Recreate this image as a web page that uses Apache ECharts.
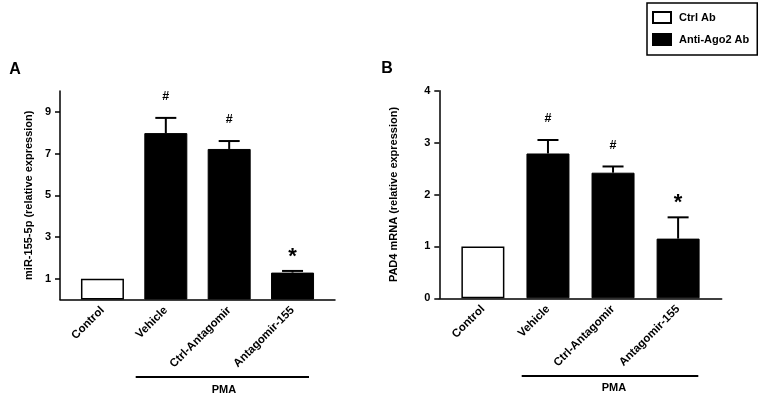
<!DOCTYPE html>
<html>
<head>
<meta charset="utf-8">
<script src="https://cdn.jsdelivr.net/npm/echarts@6/dist/echarts.min.js"></script>
<style>
  html, body { margin: 0; padding: 0; background: #fff; }
  #chart { width: 765px; height: 396px; }
</style>
</head>
<body>
<div id="chart"></div>
<script>
// ---- data ----
const categories = ['Control', 'Vehicle', 'Ctrl-Antagomir', 'Antagomir-155'];
const legendNames = ['Ctrl Ab', 'Anti-Ago2 Ab'];
const mirValues = [1.0, 7.98, 7.22, 1.29];
const mirErrors = [0, 0.73, 0.38, 0.08];
const mirMarks = ['', '#', '#', '*'];
const mirTicks = [1, 3, 5, 7, 9];
const padValues = [1.0, 2.79, 2.42, 1.15];
const padErrors = [0, 0.26, 0.12, 0.41];
const padMarks = ['', '#', '#', '*'];
const padTicks = [0, 1, 2, 3, 4];
const groupLabel = 'PMA';
const panelLetters = ['A', 'B'];
const yTitles = ['miR-155-5p (relative expression)', 'PAD4 mRNA (relative expression)'];

const FONT = "'Liberation Sans', Arial, sans-serif";
const chart = echarts.init(document.getElementById('chart'), null, { renderer: 'canvas' });

function xAxisCfg(gridIndex) {
  return {
    type: 'value', gridIndex: gridIndex, min: -0.67, max: 3.67,
    axisLine: { show: true, onZero: false, lineStyle: { color: '#000', width: 1.5 } },
    axisTick: { show: false },
    splitLine: { show: false },
    axisLabel: {
      customValues: [0, 1, 2, 3],
      formatter: function (v) { return categories[Math.round(v)]; },
      rotate: 45, margin: 9, color: '#000', fontWeight: 'bold', fontSize: 11.5, fontFamily: FONT
    }
  };
}
function yAxisCfg(gridIndex, max, ticks, name, gap) {
  return {
    type: 'value', gridIndex: gridIndex, min: 0, max: max,
    name: name, nameLocation: 'middle', nameRotate: 90, nameGap: gap,
    nameTextStyle: { color: '#000', fontWeight: 'bold', fontSize: 11, fontFamily: FONT },
    axisLine: { show: true, onZero: false, lineStyle: { color: '#000', width: 1.5 } },
    axisTick: { show: true, length: 5, customValues: ticks, lineStyle: { color: '#000', width: 1.5 } },
    axisLabel: { customValues: ticks, margin: 9, color: '#000', fontWeight: 'bold', fontSize: 11, fontFamily: FONT },
    splitLine: { show: false }
  };
}
function barSeries(idx, values) {
  return [
    {
      name: legendNames[0], type: 'bar', xAxisIndex: idx, yAxisIndex: idx,
      barWidth: 43, barGap: '-100%',
      itemStyle: { color: '#fff', borderColor: '#000', borderWidth: 1.5 },
      data: values.map(function (v, i) { return i === 0 ? [i, v] : [i, null]; })
    },
    {
      name: legendNames[1], type: 'bar', xAxisIndex: idx, yAxisIndex: idx,
      barWidth: 43, barGap: '-100%',
      itemStyle: { color: '#000', borderColor: '#000', borderWidth: 1 },
      data: values.map(function (v, i) { return i === 0 ? [i, null] : [i, v]; })
    },
    {
      type: 'custom', xAxisIndex: idx, yAxisIndex: idx, z: 5,
      data: values.map(function (v, i) { return [i, v, v + (idx === 0 ? mirErrors[i] : padErrors[i])]; }),
      renderItem: function (params, api) {
        const marks = idx === 0 ? mirMarks : padMarks;
        const base = api.coord([api.value(0), api.value(1)]);
        const top = api.coord([api.value(0), api.value(2)]);
        const children = [];
        const ls = { stroke: '#000', lineWidth: 2 };
        if (api.value(2) > api.value(1)) {
          children.push({ type: 'line', shape: { x1: base[0], y1: base[1], x2: top[0], y2: top[1] }, style: ls });
          children.push({ type: 'line', shape: { x1: top[0] - 10.5, y1: top[1], x2: top[0] + 10.5, y2: top[1] }, style: ls });
        }
        const m = marks[params.dataIndex];
        if (m) {
          const star = m === '*';
          children.push({
            type: 'text',
            style: {
              text: m, x: top[0], y: top[1] - (star ? 14 : 21),
              align: 'center', verticalAlign: 'middle',
              fontSize: star ? 22 : 12.5, fontWeight: 'bold', fontFamily: FONT, fill: '#000'
            }
          });
        }
        return { type: 'group', children: children };
      }
    }
  ];
}

const option = {
  animation: false,
  backgroundColor: '#fff',
  legend: {
    data: legendNames, orient: 'vertical', left: 647, top: 3,
    itemWidth: 18, itemHeight: 11, itemGap: 9, icon: 'rect',
    borderColor: '#000', borderWidth: 1.5, padding: [8, 8, 9, 5],
    textStyle: { color: '#000', fontWeight: 'bold', fontSize: 11, fontFamily: FONT, lineHeight: 12, padding: [0, 0, 0, 3] },
    selectedMode: false
  },
  grid: [
    { left: 60, width: 275, top: 91, height: 208.5 },
    { left: 439.3, width: 282.4, top: 90.7, height: 207.6 }
  ],
  xAxis: [xAxisCfg(0), xAxisCfg(1)],
  yAxis: [
    yAxisCfg(0, 10, mirTicks, yTitles[0], 26),
    yAxisCfg(1, 4, padTicks, yTitles[1], 40)
  ],
  series: barSeries(0, mirValues).concat(barSeries(1, padValues)),
  graphic: [
    { type: 'text', x: 15, y: 70, style: { text: panelLetters[0], align: 'center', verticalAlign: 'middle', fontSize: 16, fontWeight: 'bold', fontFamily: FONT, fill: '#000' } },
    { type: 'text', x: 387, y: 69, style: { text: panelLetters[1], align: 'center', verticalAlign: 'middle', fontSize: 16, fontWeight: 'bold', fontFamily: FONT, fill: '#000' } },
    { type: 'line', shape: { x1: 135.7, y1: 377, x2: 309, y2: 377 }, style: { stroke: '#000', lineWidth: 2 } },
    { type: 'line', shape: { x1: 521.7, y1: 376, x2: 698.3, y2: 376 }, style: { stroke: '#000', lineWidth: 2 } },
    { type: 'text', x: 224, y: 390, style: { text: groupLabel, align: 'center', verticalAlign: 'middle', fontSize: 11, fontWeight: 'bold', fontFamily: FONT, fill: '#000' } },
    { type: 'text', x: 614, y: 388, style: { text: groupLabel, align: 'center', verticalAlign: 'middle', fontSize: 11, fontWeight: 'bold', fontFamily: FONT, fill: '#000' } }
  ]
};
chart.setOption(option);
</script>
</body>
</html>
